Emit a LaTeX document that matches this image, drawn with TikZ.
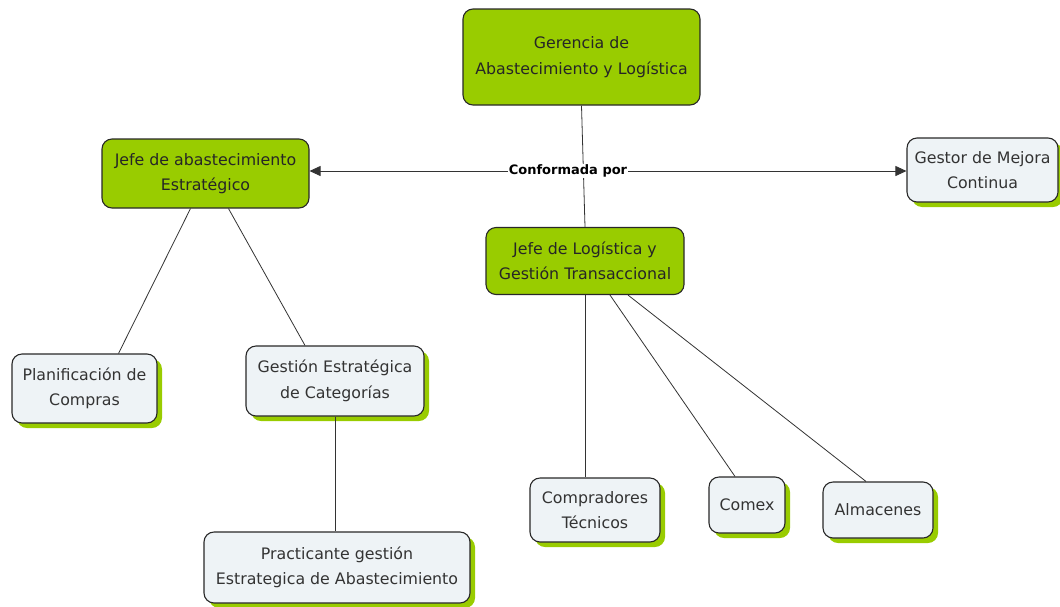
\documentclass[tikz,border=0pt]{standalone}
\usepackage{fontspec}
\setmainfont{DejaVu Sans}
\usetikzlibrary{shadows,arrows.meta}
\definecolor{cgreen}{RGB}{153,204,0}
\definecolor{clight}{RGB}{238,243,246}
\definecolor{cborder}{RGB}{40,40,40}
\tikzset{
  base/.style={draw=cborder, line width=1.1pt, rounded corners=10pt, align=center,
    font=\fontsize{15.8}{25.5}\selectfont, inner sep=2pt},
  gnode/.style={base, fill=cgreen, text=black!85},
  lnode/.style={base, fill=clight, text=black!80,
    drop shadow={shadow xshift=5pt, shadow yshift=-5pt, fill=cgreen, opacity=1}},
  conn/.style={draw=black!80, line width=0.8pt},
  arr/.style={conn, -{Triangle[length=11pt,width=10pt]}}
}
\begin{document}
\begin{tikzpicture}[x=1pt,y=-1pt]
\useasboundingbox (0,0) rectangle (1060,606);
\node[gnode, minimum width=237pt, minimum height=96pt] (ger) at (581.5,57) {Gerencia de\\Abastecimiento y Logística};
\node[gnode, minimum width=207pt, minimum height=69pt] (ja) at (205.5,173.5) {Jefe de abastecimiento\\Estratégico};
\node[lnode, minimum width=151pt, minimum height=64pt] (gm) at (982.5,170) {Gestor de Mejora\\Continua};
\node[gnode, minimum width=198pt, minimum height=67pt] (jl) at (585,261) {Jefe de Logística y\\Gestión Transaccional};
\node[lnode, minimum width=145pt, minimum height=69pt] (pc) at (84.5,388.5) {Planificación de\\Compras};
\node[lnode, minimum width=178pt, minimum height=70pt] (ge) at (335,381) {Gestión Estratégica\\de Categorías};
\node[lnode, minimum width=266pt, minimum height=71pt] (pg) at (337,567.5) {Practicante gestión\\Estrategica de Abastecimiento};
\node[lnode, minimum width=130pt, minimum height=64pt] (ct) at (595,510) {Compradores\\Técnicos};
\node[lnode, minimum width=76pt, minimum height=56pt] (cx) at (747,505) {Comex};
\node[lnode, minimum width=110pt, minimum height=56pt] (al) at (878,510) {Almacenes};
% connectors
\draw[conn] (ger.south) -- (jl.north);
\node[fill=white, inner sep=1pt, font=\bfseries\fontsize{13}{15}\selectfont] (cp) at (568,171) {Conformada por};
\draw[arr] (cp.west) -- (ja.east |- cp.west);
\draw[arr] (cp.east) -- (gm.west |- cp.east);
\draw[conn] ([xshift=-15pt]ja.south) -- ([xshift=34pt]pc.north);
\draw[conn] ([xshift=23pt]ja.south) -- ([xshift=-30pt]ge.north);
\draw[conn] (ge.south) -- (ge.south |- pg.north);
\draw[conn] (jl.south) -- ([xshift=-10pt]ct.north);
\draw[conn] ([xshift=25pt]jl.south) -- ([xshift=-12pt]cx.north);
\draw[conn] ([xshift=43pt]jl.south) -- ([xshift=-12pt]al.north);
\end{tikzpicture}
\end{document}
